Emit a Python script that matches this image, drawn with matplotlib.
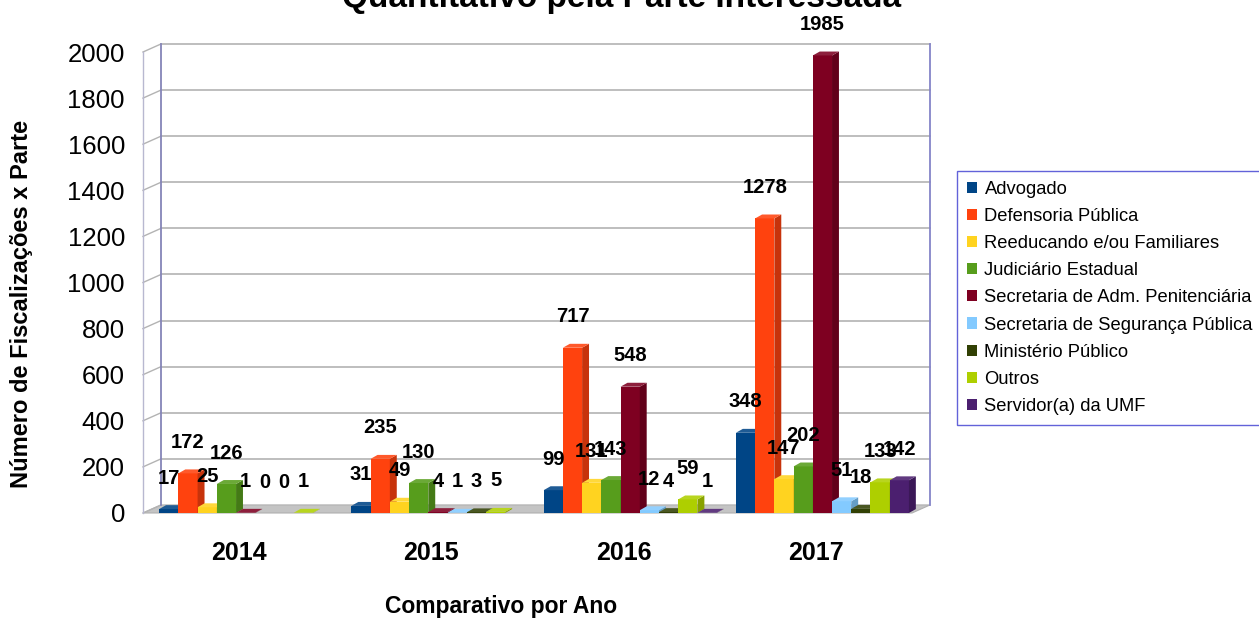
import numpy as np
import matplotlib.pyplot as plt
from matplotlib.patches import Polygon, Patch
import matplotlib.colors as mcolors

plt.rcParams['font.family'] = ['Liberation Sans', 'DejaVu Sans']

years = ['2014', '2015', '2016', '2017']
series = ['Advogado', 'Defensoria Pública', 'Reeducando e/ou Familiares',
          'Judiciário Estadual', 'Secretaria de Adm. Penitenciária',
          'Secretaria de Segurança Pública', 'Ministério Público', 'Outros',
          'Servidor(a) da UMF']
advogado = [17, 31, 99, 348]
defensoria = [172, 235, 717, 1278]
reeducando = [25, 49, 131, 147]
judiciario = [126, 130, 143, 202]
sec_adm = [1, 4, 548, 1985]
sec_seg = [0, 1, 12, 51]
ministerio = [0, 3, 4, 18]
outros = [1, 5, 59, 133]
servidor = [np.nan, np.nan, 1, 142]
values = [advogado, defensoria, reeducando, judiciario, sec_adm,
          sec_seg, ministerio, outros, servidor]
colors = ['#004586', '#ff420e', '#ffd320', '#579d1c', '#7e0021',
          '#83caff', '#314004', '#aecf00', '#4b1f6f']
yticks = list(range(0, 2001, 200))

W, H = 1259, 621
fig = plt.figure(figsize=(W / 100, H / 100), dpi=100)
ax = fig.add_axes([143 / W, 108 / H, 769 / W, 461 / H])
ax.set_xlim(-0.5, 3.5)
ax.set_ylim(0, 2000)

# depth of the "3D" walls and of the bars (in data units)
DX, DY = 0.094, 35
BDX, BDY = 0.036, 17
x = np.arange(len(years))

# floor and walls
ax.add_patch(Polygon([(-0.5, 0), (3.5, 0), (3.5 + DX, DY), (-0.5 + DX, DY)],
                     closed=True, fc='#c4c4c4', ec='#b0b0b0', lw=0.8,
                     clip_on=False, zorder=1))
for v in yticks[1:]:
    ax.plot([-0.5 + DX, 3.5 + DX], [v + DY, v + DY], color='#b3b3b3',
            lw=1.2, clip_on=False, zorder=1)
for v in yticks:
    ax.plot([-0.5, -0.5 + DX], [v, v + DY], color='#b3b3b3', lw=1.0,
            clip_on=False, zorder=1)
ax.plot([-0.5 + DX, -0.5 + DX], [DY, 2000 + DY], color='#8585b8', lw=1.3,
        clip_on=False, zorder=1.5)
ax.plot([-0.5, -0.5], [0, 2000], color='#b8b8d0', lw=1.0, clip_on=False,
        zorder=1.5)
ax.plot([3.5 + DX, 3.5 + DX], [DY, 2000 + DY], color='#8585c8', lw=1.3,
        clip_on=False, zorder=1.5)

for i, (vals, c) in enumerate(zip(values, colors)):
    rgb = np.array(mcolors.to_rgb(c))
    side = rgb * 0.78
    top = rgb + (1 - rgb) * 0.12
    xl = x - 0.416 + 0.1 * i
    vals = np.array(vals, dtype=float)
    z = 3 + i * 0.05
    ok = ~np.isnan(vals) & (vals > 0)
    ax.bar(xl[ok], vals[ok], width=0.1, align='edge', color=c, lw=0,
           zorder=z, clip_on=False)
    for xi, v in zip(xl[ok], vals[ok]):
        xr = xi + 0.1
        ax.add_patch(Polygon([(xr, 0), (xr + BDX, BDY), (xr + BDX, v + BDY), (xr, v)],
                             closed=True, fc=side, lw=0, zorder=z, clip_on=False))
        ax.add_patch(Polygon([(xi, v), (xr, v), (xr + BDX, v + BDY), (xi + BDX, v + BDY)],
                             closed=True, fc=top, lw=0, zorder=z, clip_on=False))
    for xi, v in zip(xl, vals):
        if np.isnan(v):
            continue
        ax.text(xi + 0.05, v + 134, f'{int(v)}', ha='center', va='center',
                fontsize=14.5, fontweight='bold', zorder=10)

for s in ax.spines.values():
    s.set_visible(False)
ax.set_yticks(yticks)
ax.set_yticklabels([str(t) for t in yticks], fontsize=18.5)
ax.set_xticks(x)
ax.set_xticklabels(years, fontsize=18, fontweight='bold')
ax.tick_params(axis='y', length=0, pad=13)
ax.tick_params(axis='x', length=0, pad=20)

fig.text(0.4937, 1 - 7 / H, 'Quantitativo pela Parte Interessada',
         ha='center', va='baseline', fontsize=24, fontweight='bold')
fig.text(22 / W, 1 - 304 / H, 'Número de Fiscalizações x Parte', rotation=90,
         ha='center', va='center', fontsize=17, fontweight='bold')
fig.text(501 / W, 1 - 607 / H, 'Comparativo por Ano', ha='center',
         va='center', fontsize=16.5, fontweight='bold')

handles = [Patch(facecolor=c, edgecolor='none') for c in colors]
leg = fig.legend(handles, series, loc='upper left',
                 bbox_to_anchor=(957 / W, 1 - 171 / H), frameon=True,
                 fancybox=False, fontsize=13.2, handlelength=0.55,
                 handleheight=0.55, handletextpad=0.4, labelspacing=0.55,
                 borderpad=0.55, borderaxespad=0)
leg.get_frame().set_edgecolor('#3b3bd0')
leg.get_frame().set_linewidth(1.0)

fig.savefig('out.png', dpi=100)
